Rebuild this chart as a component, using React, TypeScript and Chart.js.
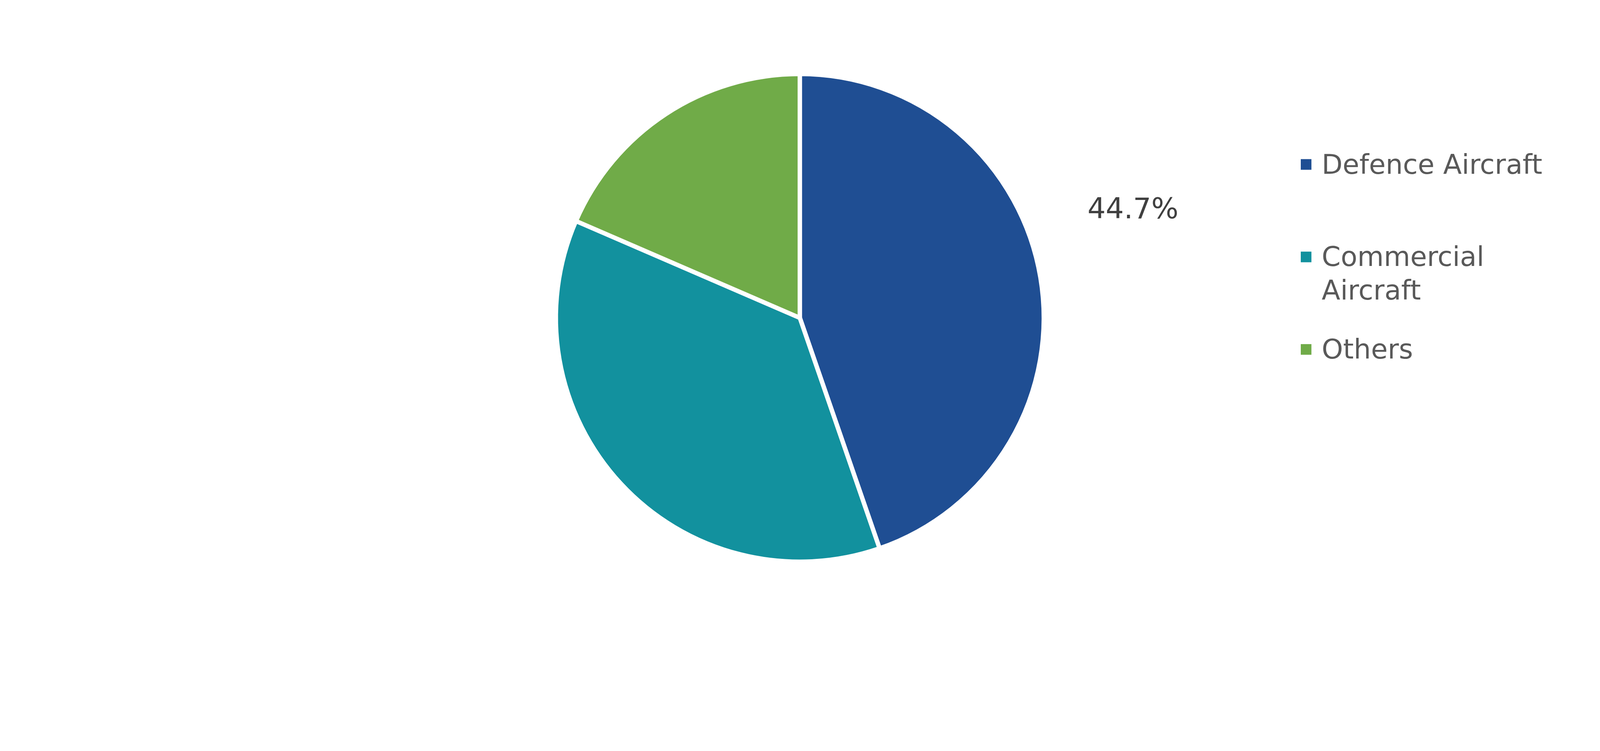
import React, { useEffect, useRef } from "react";
import { Chart, registerables } from "chart.js";

Chart.register(...registerables);

// ---- data ----
const categories: string[] = ["Defence Aircraft", "Commercial Aircraft", "Others"];
const shares: number[] = [44.7, 36.8, 18.5];
const sliceColors: string[] = ["#1F4E93", "#12919E", "#70AB48"];
const showValueLabel: boolean[] = [true, false, false];

const FONT = "'DejaVu Sans', Verdana, sans-serif";
const REF_W = 4358;
const REF_H = 1923;

function wrapText(ctx: CanvasRenderingContext2D, text: string, maxWidth: number): string[] {
  const words = text.split(" ");
  const lines: string[] = [];
  let cur = "";
  for (const w of words) {
    const test = cur ? cur + " " + w : w;
    if (ctx.measureText(test).width > maxWidth && cur) {
      lines.push(cur);
      cur = w;
    } else {
      cur = test;
    }
  }
  if (cur) lines.push(cur);
  return lines;
}

function makeOverlay(s: number, border: number) {
  return {
    id: "overlay",
    afterDraw(chart: any) {
      const ctx: CanvasRenderingContext2D = chart.ctx;
      const ds = chart.data.datasets[0];
      const meta = chart.getDatasetMeta(0);
      const labels: string[] = chart.data.labels;

      // value labels
      ctx.save();
      ctx.font = `${78 * s}px ${FONT}`;
      ctx.fillStyle = "#404040";
      ctx.textAlign = "center";
      ctx.textBaseline = "middle";
      meta.data.forEach((arc: any, i: number) => {
        if (!showValueLabel[i]) return;
        const p = arc.getProps(["x", "y", "outerRadius"], true);
        const R = p.outerRadius - border / 2;
        const x = p.x + 1.378 * R;
        const y = p.y - 0.443 * R;
        ctx.fillText(ds.data[i].toFixed(1) + "%", x, y);
      });
      ctx.restore();

      // legend
      ctx.save();
      ctx.font = `${74 * s}px ${FONT}`;
      ctx.textAlign = "left";
      ctx.textBaseline = "alphabetic";
      const markerX = 3543 * s;
      const textX = 3600 * s;
      const firstBaseline = 473 * s;
      const step = 252 * s;
      const lineH = 91 * s;
      const box = 29 * s;
      labels.forEach((lab, i) => {
        const base = firstBaseline + i * step;
        ctx.fillStyle = ds.backgroundColor[i];
        ctx.fillRect(markerX, base - 25 * s - box / 2, box, box);
        ctx.fillStyle = "#595959";
        const lines = wrapText(ctx, lab, 660 * s);
        lines.forEach((ln, j) => ctx.fillText(ln, textX, base + j * lineH));
      });
      ctx.restore();
    },
  };
}

export default function App() {
  const ref = useRef<HTMLCanvasElement | null>(null);
  const W = typeof window !== "undefined" ? window.innerWidth : REF_W;
  const H = typeof window !== "undefined" ? window.innerHeight : REF_H;
  useEffect(() => {
    if (!ref.current) return;
    const s = W / REF_W;
    const border = 12 * s;
    const cx = 2178.5 * s;
    const cy = 866 * s;
    const half = 670.5 * s;
    const chart = new Chart(ref.current, {
      type: "pie",
      data: {
        labels: categories,
        datasets: [
          {
            data: shares,
            backgroundColor: sliceColors,
            borderColor: "#FFFFFF",
            borderWidth: border,
          },
        ],
      },
      options: {
        responsive: true,
        maintainAspectRatio: false,
        animation: false,
        layout: {
          padding: {
            left: 0,
            right: Math.max(W - 2 * cx, 0),
            top: cy - half,
            bottom: Math.max(H - (cy + half), 0),
          },
        },
        plugins: {
          legend: { display: false },
          tooltip: { enabled: false },
        },
      },
      plugins: [makeOverlay(s, border)],
    } as any);
    return () => chart.destroy();
  }, []);
  return (
    <div style={{ position: "fixed", left: 0, top: 0, width: W, height: H, background: "#fff" }}>
      <canvas ref={ref} style={{ display: "block" }} />
    </div>
  );
}
